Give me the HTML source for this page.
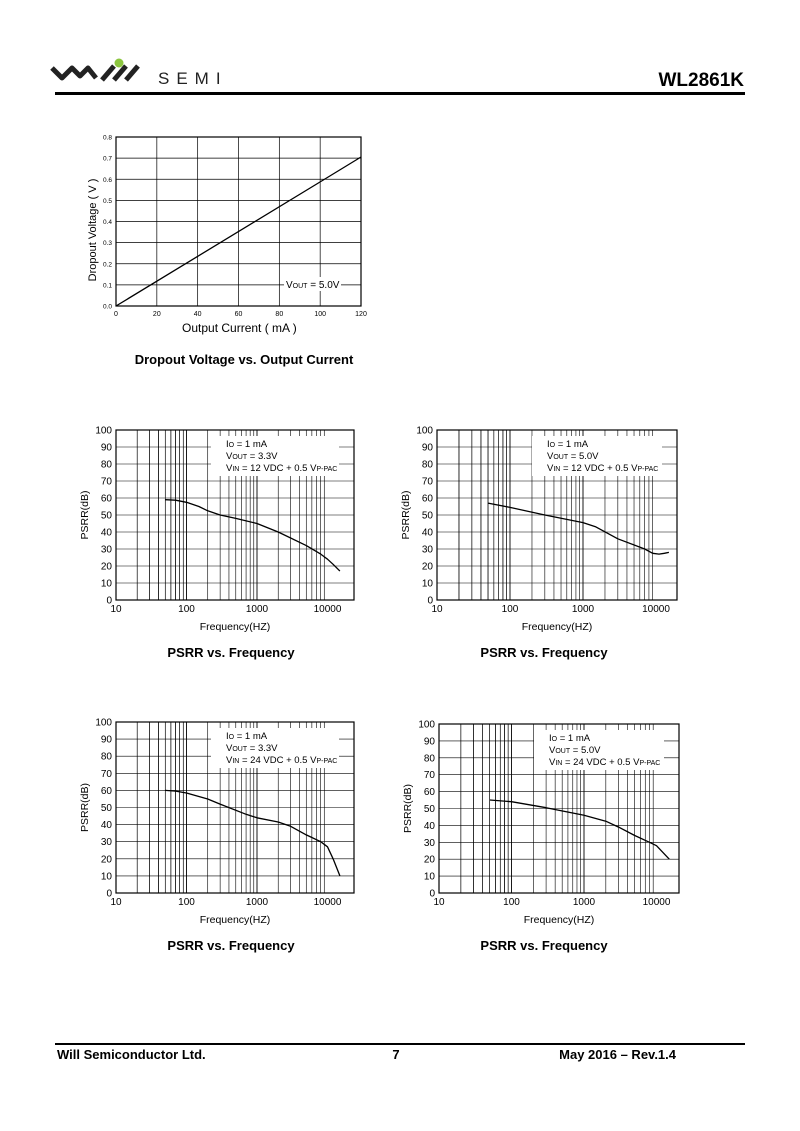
<!DOCTYPE html>
<html><head><style>
body{margin:0;background:#fff;}
svg{display:block;font-family:"Liberation Sans",Arial,sans-serif;}
</style></head><body>
<svg id="s" width="800" height="1131" viewBox="0 0 800 1131" xmlns="http://www.w3.org/2000/svg">
<!-- header -->
<path d="M52,68 L62,78 L72,68 L80,76 L88,68 L96,78" fill="none" stroke="#222" stroke-width="5" stroke-linejoin="round"/>
<path d="M102,80 L114,66 M114,80 L126,66 M126,80 L138,66" stroke="#222" stroke-width="5"/>
<circle cx="119" cy="63" r="4.5" fill="#8cc63f"/>
<text x="158" y="84" font-size="17" letter-spacing="7" fill="#222">SEMI</text>
<text x="744" y="86" font-size="19" font-weight="bold" text-anchor="end">WL2861K</text>
<rect x="55" y="92" width="690" height="3" fill="#000"/>
<!-- footer -->
<rect x="55" y="1043" width="690" height="2" fill="#000"/>
<text x="57" y="1059" font-size="13" font-weight="bold">Will Semiconductor Ltd.</text>
<text x="396" y="1059" font-size="13" font-weight="bold" text-anchor="middle">7</text>
<text x="676" y="1059" font-size="13" font-weight="bold" text-anchor="end">May 2016 – Rev.1.4</text>
<!-- titles -->
<text x="244" y="364" font-size="13" font-weight="bold" text-anchor="middle">Dropout Voltage vs. Output Current</text>
<text x="231" y="657" font-size="13" font-weight="bold" text-anchor="middle">PSRR vs. Frequency</text>
<text x="544" y="657" font-size="13" font-weight="bold" text-anchor="middle">PSRR vs. Frequency</text>
<text x="231" y="950" font-size="13" font-weight="bold" text-anchor="middle">PSRR vs. Frequency</text>
<text x="544" y="950" font-size="13" font-weight="bold" text-anchor="middle">PSRR vs. Frequency</text>
<g id="g"></g>
</svg>
<script>
var g=document.getElementById('g'),h='';
// dropout chart
(function(){var L=116,R=361,T=137,B=306;
for(var i=1;i<6;i++){var x=L+(R-L)*i/6;h+='<line x1="'+x+'" y1="'+T+'" x2="'+x+'" y2="'+B+'" stroke="#000" stroke-width="0.7"/>';}
for(var j=1;j<8;j++){var y=B-(B-T)*j/8;h+='<line x1="'+L+'" y1="'+y+'" x2="'+R+'" y2="'+y+'" stroke="#000" stroke-width="0.7"/>';}
for(var i=0;i<=6;i++){var x=L+(R-L)*i/6;h+='<text x="'+x+'" y="316" font-size="7" text-anchor="middle">'+(i*20)+'</text>';}
for(var j=0;j<=8;j++){var y=B-(B-T)*j/8;h+='<text x="112" y="'+(y+2.5)+'" font-size="6.5" text-anchor="end">'+(j/10).toFixed(1)+'</text>';}
h+='<rect x="284" y="277" width="57" height="14" fill="#fff"/>';
h+='<text x="286" y="288" font-size="10">V<tspan font-size="7">OUT</tspan> = 5.0V</text>';
h+='<polyline fill="none" stroke="#000" stroke-width="1.3" points="'+L+','+B+' 320,182 '+R+',157"/>';
h+='<rect x="'+L+'" y="'+T+'" width="'+(R-L)+'" height="'+(B-T)+'" fill="none" stroke="#000" stroke-width="1.2"/>';
h+='<text x="182" y="332" font-size="12">Output Current ( mA )</text>';
h+='<text transform="translate(96,230) rotate(-90)" font-size="11" text-anchor="middle">Dropout Voltage ( V )</text>';
})();
function psrr(L,R,T,B,d,vout,vin,pts){
 var f=function(v){return L+d*Math.log10(v/10);};
 for(var k=1;k<=3;k++)for(var m=1;m<=9;m++){var v=Math.pow(10,k)*m;var x=f(v);if(x>=R)continue;
  h+='<line x1="'+x+'" y1="'+T+'" x2="'+x+'" y2="'+B+'" stroke="#000" stroke-width="'+(m==1?0.9:0.6)+'"/>';}
 for(var m=2;m<=9;m++){var x=f(10*m);h+='<line x1="'+x+'" y1="'+T+'" x2="'+x+'" y2="'+B+'" stroke="#000" stroke-width="0.6"/>';}
 for(var j=1;j<10;j++){var y=B-(B-T)*j/10;h+='<line x1="'+L+'" y1="'+y+'" x2="'+R+'" y2="'+y+'" stroke="#000" stroke-width="0.6"/>';}
 for(var j=0;j<=10;j++){var y=B-(B-T)*j/10;h+='<text x="'+(L-4)+'" y="'+(y+3.5)+'" font-size="10" text-anchor="end">'+(j*10)+'</text>';}
 [10,100,1000,10000].forEach(function(v){h+='<text x="'+f(v)+'" y="'+(B+12)+'" font-size="10" text-anchor="middle">'+v+'</text>';});
 h+='<rect x="'+(L+95)+'" y="'+(T+6)+'" width="'+(R-L-110)+'" height="40" fill="#fff"/>';
 h+='<text x="'+(L+110)+'" y="'+(T+17)+'" font-size="9.5">I<tspan font-size="7">O</tspan> = 1 mA</text>';
 h+='<text x="'+(L+110)+'" y="'+(T+29)+'" font-size="9.5">V<tspan font-size="7">OUT</tspan> = '+vout+'</text>';
 h+='<text x="'+(L+110)+'" y="'+(T+41)+'" font-size="9.5">V<tspan font-size="7">IN</tspan> = '+vin+' VDC + 0.5 V<tspan font-size="7">P-PAC</tspan></text>';
 var p=pts.map(function(q){return f(q[0]).toFixed(1)+','+(B-(B-T)*q[1]/100).toFixed(1);}).join(' ');
 h+='<polyline fill="none" stroke="#000" stroke-width="1.3" stroke-linejoin="round" points="'+p+'"/>';
 h+='<rect x="'+L+'" y="'+T+'" width="'+(R-L)+'" height="'+(B-T)+'" fill="none" stroke="#000" stroke-width="1.2"/>';
 h+='<text x="'+((L+R)/2)+'" y="'+(B+30)+'" font-size="10.5" text-anchor="middle">Frequency(HZ)</text>';
 h+='<text transform="translate('+(L-28)+','+((T+B)/2)+') rotate(-90)" font-size="10.5" text-anchor="middle">PSRR(dB)</text>';
}
psrr(116,354,430,600,70.5,'3.3V','12',[[50,59],[70,58.7],[100,57.5],[150,55],[200,52.5],[300,50],[500,48],[1000,45],[2000,40],[5000,32],[8000,27],[10000,24],[12000,21],[15000,17]]);
psrr(437,677,430,600,73,'5.0V','12',[[50,57],[100,54.5],[300,50],[1000,45.5],[1500,43],[3000,36],[7000,30],[9000,27.5],[11000,27],[13000,27.5],[15000,28]]);
psrr(116,354,722,893,70.5,'3.3V','24',[[50,60],[70,59.6],[100,58.5],[200,55],[300,52],[700,46],[1000,44],[2000,41.5],[3000,39],[5000,34],[8000,30],[10000,27],[12000,20],[15000,10]]);
psrr(439,679,724,893,72.5,'5.0V','24',[[50,55],[100,54],[300,50.5],[1000,46],[2000,42.5],[3000,39],[5000,34],[8000,30],[10000,28],[15000,20]]);
g.innerHTML=h;
</script>
</body></html>
